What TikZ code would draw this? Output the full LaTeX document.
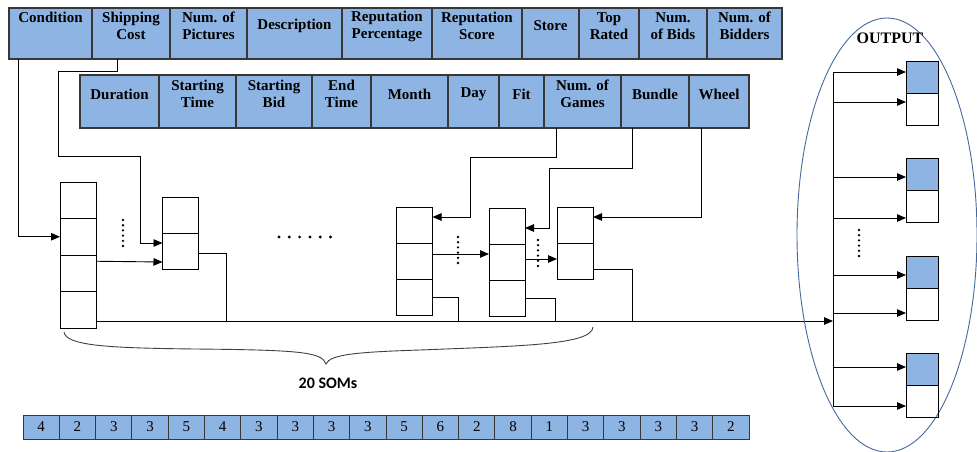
\documentclass[tikz,border=0pt]{standalone}
\usepackage{fontspec}
\setmainfont{Liberation Serif}
\newfontfamily\somfont{Carlito}
\usetikzlibrary{arrows.meta,calc,positioning}
\definecolor{cellblue}{RGB}{141,180,226}
\definecolor{gridgray}{RGB}{55,55,55}
\definecolor{ellblue}{RGB}{70,105,155}

\begin{document}
\begin{tikzpicture}[x=1pt,y=-1pt,>={Triangle[length=9pt,width=7.5pt]},
  hcell/.style={draw=gridgray,line width=1.1pt,fill=cellblue,inner sep=0pt,outer sep=0pt},
  htxt/.style={align=center,inner sep=0pt,font=\bfseries\fontsize{15}{17}\selectfont},
  somcell/.style={draw,line width=0.9pt,fill=white,minimum width=36pt,inner sep=0pt,outer sep=0pt},
  outcell/.style={draw,line width=0.9pt,minimum width=32pt,minimum height=32pt,inner sep=0pt,outer sep=0pt},
  numcell/.style={draw=gridgray,line width=0.9pt,fill=cellblue,minimum width=36.3pt,minimum height=24pt,
    inner sep=0pt,outer sep=0pt,font=\fontsize{15}{15}\selectfont},
  link/.style={line width=0.9pt},
  dotmark/.style={fill=black}]
\useasboundingbox (0,0) rectangle (977,452);

% first row of features
\foreach \l/\r/\nm/\ty/\txt in {9/92/cond/17/Condition, 92/170/ship/26/Shipping\\Cost,
    170/247/pics/26/Num. of\\Pictures, 247/342/desc/26/Description,
    342/432/reppct/26/Reputation\\Percentage, 432/522/repscore/26/Reputation\\Score,
    522/579/store/26/Store, 579/639/toprated/26/Top\\Rated, 639/707/bids/26/Num.\\of Bids,
    707/782/bidders/26/Num. of\\Bidders} {
  \node[hcell,minimum width=(\r-\l)*1pt,minimum height=51pt] (\nm) at ({(\l+\r)/2},33.5) {};
  \node[htxt] (\nm-t) at ({(\l+\r)/2},\ty) {\txt};
}
% second row of features
\foreach \l/\r/\nm/\txt in {80/159/dur/Duration, 159/236/sttime/Starting\\Time,
    236/312/stbid/Starting\\Bid, 312/371/endtime/End\\Time, 371/448/month/Month,
    448/499/day/Day, 499/544/fit/Fit, 544/621/games/Num. of\\Games,
    621/689/bundle/Bundle, 689/749/wheel/Wheel} {
  \node[hcell,minimum width=(\r-\l)*1pt,minimum height=53pt] (\nm) at ({(\l+\r)/2},101.5) {};
  \node[htxt] (\nm-t) at ({(\l+\r)/2},94) {\txt};
}

% SOM stacks
\foreach \b/\x/\y/\h/\n in {1/78/182/36.5/4, 2/180.5/197/36/2, 3/414.5/207/36/3,
    4/507/208/36/3, 5/575/207/36/2} {
  \node[somcell,minimum height=\h pt] (som\b-1) at (\x,\y+\h/2) {};
  \foreach \k [remember=\k as \p (initially 1)] in {2,...,\n}
    \node[somcell,minimum height=\h pt,below=0pt of som\b-\p] (som\b-\k) {};
}

% feature lines into the SOMs
\draw[link,->] ([xshift=9pt]cond.south west) |- (som1-2.west);
\draw[link,->] ([xshift=-14pt]ship.south) -- ++(0,12) -- ++(-59,0) -- ++(0,85) -- ++(82,0)
  |- ([yshift=8pt]som2-2.west);
\draw[link,->] ([xshift=-26.5pt]games.south) -- ++(0,29) -- ++(-86,0) |- ([yshift=8pt]som3-1.east);
\draw[link,->] ([xshift=-23pt]bundle.south) -- ++(0,40) -- ++(-83,0) |- ([yshift=-2pt]som4-1.east);
\draw[link,->] ([xshift=-18pt]wheel.south) |- ([yshift=8pt]som5-1.east);

% links between SOMs
\draw[link,->] ([yshift=12pt]som1-3.east) -- ([yshift=-11pt]som2-2.west);
\draw[link,->] ([yshift=7pt]som3-2.east) -- ([yshift=8pt]som4-2.west);
\draw[link,->] ([yshift=3pt]som4-2.east) -- ([yshift=2pt]som5-2.west);

% common output line
\coordinate (busin) at (833,321);
\draw[link,->] (som1-4.south east |- busin) -- (busin);
\draw[link] ([yshift=-2pt]som2-2.east) -- ++(28,0) coordinate (s2o) -- (s2o |- busin);
\draw[link] (som3-3.east) -- ++(26,0) coordinate (s3o) -- (s3o |- busin);
\draw[link] (som4-3.east) -- ++(30,0) coordinate (s4o) -- (s4o |- busin);
\draw[link] ([yshift=-8pt]som5-2.east) -- ++(39,0) coordinate (s5o) -- (s5o |- busin);

% dots
\foreach \x/\y in {123/220, 458/237, 538/240, 859/230}
  \foreach \i in {0,...,5} \fill[dotmark] (\x,\y+\i*5.2) circle (1.3pt);
\foreach \i in {0,...,5} \fill[dotmark] (279+\i*10.3,237) circle (1.6pt);

% brace
\draw[line width=0.9pt,black!75] (64,332) .. controls (66,346) and (110,348) .. (195,349)
  .. controls (300,350) and (322,352) .. (326,364)
  .. controls (330,354) and (360,352) .. (420,350)
  .. controls (520,346) and (592,345) .. (593,327);
\node[font=\somfont\bfseries\fontsize{16}{18}\selectfont] (somlbl) at (328,383) {20 SOMs};

% output block
\draw[ellblue,line width=0.9pt] (887,235) ellipse (90 and 217);
\node[htxt,font=\bfseries\fontsize{16}{18}\selectfont] (outlbl) at (890,38) {OUTPUT};
\foreach \bx/\y in {outA/61, outB/158, outC/256, outD/353} {
  \node[outcell,fill=cellblue] (\bx-1) at (922,\y+16) {};
  \node[outcell,below=0pt of \bx-1] (\bx-2) {};
}
\foreach \c/\dy in {outA-1/-5, outA-2/-7, outB-1/3, outB-2/12, outC-1/3, outC-2/9, outD-1/-2, outD-2/5} {
  \coordinate (\c-in) at ($(\c.west)+(0,\dy)$);
  \draw[link,->] (busin |- \c-in) -- (\c-in);
}
\draw[link] (busin |- outA-1-in) -- (busin |- outD-2-in);

% bits per SOM
\foreach \n [count=\i] in {4,2,3,3,5,4,3,3,3,3,5,6,2,8,1,3,3,3,3,2}
  \node[numcell] (num\i) at ({23+(\i-0.5)*36.3},427) {\n};
\end{tikzpicture}
\end{document}
